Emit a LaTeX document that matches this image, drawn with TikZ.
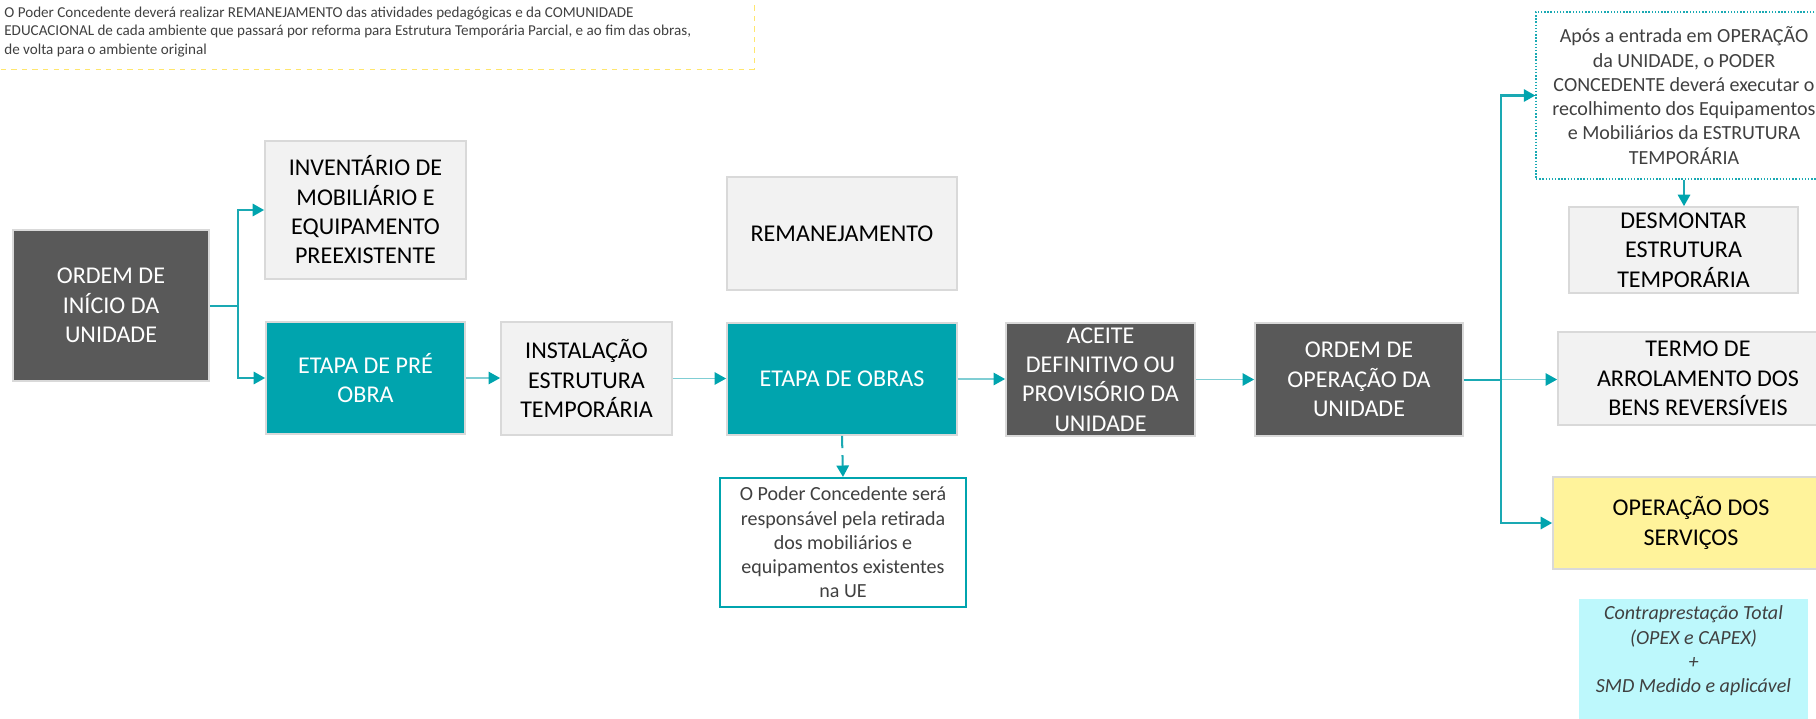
\documentclass[tikz,border=0pt]{standalone}
\usepackage{fontspec}
\setmainfont{Carlito}
\usepackage{tikz}
\usetikzlibrary{arrows.meta}
\definecolor{darkgrey}{HTML}{595959}
\definecolor{tealfill}{HTML}{00A4AE}
\definecolor{lightfill}{HTML}{F2F2F2}
\definecolor{edgegrey}{HTML}{D9D9D9}
\definecolor{lineteal}{HTML}{1AA9B3}
\definecolor{linepale}{HTML}{80CED4}
\definecolor{yellowfill}{HTML}{FFF39B}
\definecolor{cyanfill}{HTML}{BDF8FC}
\definecolor{noteedge}{HTML}{FFE66E}
\definecolor{graytext}{HTML}{404040}
\newcommand{\boxfont}{\fontsize{13.7}{16.7}\selectfont}
\newcommand{\infofont}{\fontsize{11.4}{13.8}\selectfont}
\newcommand{\notefont}{\fontsize{8.6}{10.5}\selectfont}
\tikzset{
  sz/.style 2 args={minimum width=#1*0.02cm, minimum height=#2*0.02cm},
  stepbase/.style={draw=edgegrey, line width=1pt, inner sep=0pt, align=center, font=\boxfont},
  darkbox/.style={stepbase, fill=darkgrey, text=white},
  tealbox/.style={stepbase, fill=tealfill, text=white},
  greybox/.style={stepbase, fill=lightfill, text=black},
  infobox/.style={inner sep=0pt, align=center, font=\infofont, text=graytext},
  thickln/.style={lineteal, line width=1.15pt},
  paleln/.style={linepale, line width=0.85pt},
  arrowhd/.style={-{Triangle[length=6.5pt,width=7pt,color=tealfill,fill=tealfill]}},
}

\begin{document}
\begin{tikzpicture}[x=0.02cm,y=-0.02cm]
  \useasboundingbox (0,0) rectangle (1816,718);
  \clip (0,0) rectangle (1816,718);
  % note on top
  \draw[noteedge, dashed, line width=0.5pt] (-2,-2) rectangle (754,69);
  \node[anchor=west, align=left, font=\notefont, text=graytext, inner sep=0pt] (note) at (4,32)
    {O Poder Concedente deverá realizar REMANEJAMENTO das atividades pedagógicas e da COMUNIDADE\\
     EDUCACIONAL de cada ambiente que passará por reforma para Estrutura Temporária Parcial, e ao fim das obras,\\
     de volta para o ambiente original};
  % main line
  \node[darkbox, sz={196}{151}] (inicio) at (111,305.5) {ORDEM DE\\INÍCIO DA\\UNIDADE};
  \node[greybox, sz={201}{138}] (invent) at (365.5,210) {INVENTÁRIO DE\\MOBILIÁRIO E\\EQUIPAMENTO\\PREEXISTENTE};
  \node[tealbox, sz={199}{112}] (preobra) at (365.5,378) {ETAPA DE PRÉ\\OBRA};
  \node[greybox, sz={171}{113}] (instal) at (586.5,378.5) {INSTALAÇÃO\\ESTRUTURA\\TEMPORÁRIA};
  \node[greybox, sz={230}{113}] (reman) at (842,233.5) {REMANEJAMENTO};
  \node[tealbox, sz={230}{112}] (obras) at (842,379) {ETAPA DE OBRAS};
  \node[infobox, draw=tealfill, line width=1.2pt, fill=white, sz={246}{129}] (ue) at (843,542.5)
    {O Poder Concedente será\\responsável pela retirada\\dos mobiliários e\\equipamentos existentes\\na UE};
  \node[darkbox, sz={189}{113}] (aceite) at (1100.5,379.5) {ACEITE\\DEFINITIVO OU\\PROVISÓRIO DA\\UNIDADE};
  \node[darkbox, sz={208}{113}] (ordop) at (1359,379.5) {ORDEM DE\\OPERAÇÃO DA\\UNIDADE};
  % right column
  \node[infobox, draw=lineteal, densely dotted, line width=0.8pt, sz={296}{167}] (apos) at (1684,95.5)
    {Após a entrada em OPERAÇÃO\\da UNIDADE, o PODER\\CONCEDENTE deverá executar o\\recolhimento dos Equipamentos\\e Mobiliários da ESTRUTURA\\TEMPORÁRIA};
  \node[greybox, sz={229}{86}] (desm) at (1683.5,250) {DESMONTAR\\ESTRUTURA\\TEMPORÁRIA};
  \node[greybox, sz={280}{93}] (termo) at (1698,378.5) {TERMO DE\\ARROLAMENTO DOS\\BENS REVERSÍVEIS};
  \node[stepbase, fill=yellowfill, sz={276}{92}] (servicos) at (1691,523) {OPERAÇÃO DOS\\SERVIÇOS};
  \fill[cyanfill] (1579,599) rectangle (1808,720);
  \node[infobox, font=\infofont\itshape] (contra) at (1693.5,651)
    {Contraprestação Total\\(OPEX e CAPEX)\\+\\SMD Medido e aplicável};
  % connectors
  \draw[thickln] (inicio.east) -- ++(28,0) coordinate (fork);
  \draw[thickln,arrowhd] (fork) |- (invent.west);
  \draw[thickln,arrowhd] (fork) |- (preobra.west);
  \draw[paleln,arrowhd] (preobra.east) -- (preobra.east -| instal.west);
  \draw[paleln,arrowhd] (instal.east) -- (instal.east -| obras.west);
  \draw[paleln,arrowhd] (obras.east) -- (obras.east -| aceite.west);
  \draw[paleln,arrowhd] (aceite.east) -- (aceite.east -| ordop.west);
  \draw[thickln,dash pattern=on 7pt off 4pt,arrowhd] (obras.south) -- (ue.north);
  \draw[thickln] (ordop.east) -- ++(37,0) coordinate (trunk);
  \draw[paleln,arrowhd] (trunk) -- (trunk -| termo.west);
  \draw[thickln,arrowhd] (trunk) |- (apos.west);
  \draw[thickln,arrowhd] (trunk) |- (servicos.west);
  \draw[thickln,arrowhd] (apos.south) -- (apos.south |- desm.north);
\end{tikzpicture}
\end{document}
